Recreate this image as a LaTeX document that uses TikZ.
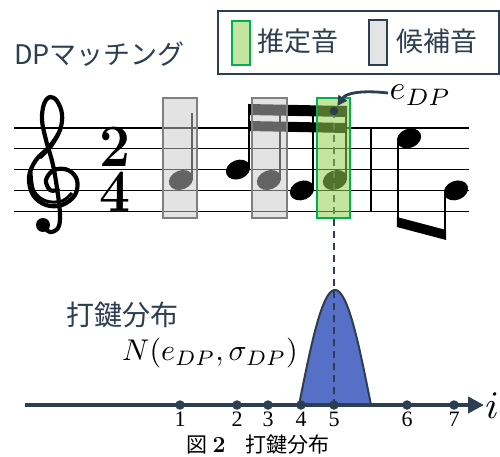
\documentclass[tikz,border=0pt]{standalone}
\usepackage{fontspec}
\usetikzlibrary{arrows.meta,shapes.geometric}
\newfontfamily\jp{Noto Sans CJK JP}
\newfontfamily\numfont{Liberation Serif}
\definecolor{slate}{RGB}{44,62,80}
\definecolor{gfill}{RGB}{146,208,80}
\definecolor{gline}{RGB}{0,176,80}
\definecolor{bfill}{RGB}{86,112,200}
\definecolor{gbox}{RGB}{200,200,200}
\definecolor{gboxline}{RGB}{128,128,128}
\begin{document}
\begin{tikzpicture}[x=1pt,y=-1pt,
  staffline/.style={line width=1.4pt,black},
  stemline/.style={line width=2.2pt,black},
  nhead/.style={ellipse,fill=black,minimum width=25pt,minimum height=19pt,inner sep=0pt,rotate=22},
  beamshape/.style={fill=black},
  candbox/.style={fill=gbox,fill opacity=0.5,draw=gboxline,draw opacity=1,line width=2.4pt},
  estbox/.style={fill=gfill,fill opacity=0.55,draw=gline,draw opacity=1,line width=2.4pt},
  jptext/.style={font=\fontsize{27}{30}\selectfont\jp,text=slate,inner sep=0pt},
  axdot/.style={circle,fill=slate,minimum size=9.5pt,inner sep=0pt},
  numlab/.style={inner sep=0pt},
  tsdigit/.style={inner sep=0pt,xscale=0.92,anchor=base,font=\fontsize{60}{60}\selectfont\bfseries},
  mathlab/.style={inner sep=0pt,text=black}]
\useasboundingbox (0,0) rectangle (500,457);

% ---- title and legend ----
\node[jptext,anchor=west] (title) at (14,54) {DPマッチング};
\draw[slate,line width=2pt] (218,11) rectangle (499,74);
\node[fill=gfill,fill opacity=0.55,draw=gline,draw opacity=1,line width=2.4pt,minimum width=18pt,minimum height=44pt,inner sep=0pt] (legG) at (241,43) {};
\node[jptext,anchor=west] (legGt) at (257,41) {推定音};
\node[fill=gbox!50,draw=slate,line width=2.4pt,minimum width=18pt,minimum height=45pt,inner sep=0pt] (legC) at (378,42.5) {};
\node[jptext,anchor=west] (legCt) at (396,41) {候補音};

% ---- staff ----
\foreach \yy in {128,148.8,169.6,190.4,211.2}
  \draw[staffline] (14,\yy) -- (469,\yy);

% treble clef
\draw[line width=4.2pt,line cap=round,line join=round] plot[smooth,tension=0.6] coordinates {
 (43,226) (50,232) (58,228) (60,216) (58,195) (53,165) (46,140) (42,120) (44,104) (50,97)
 (57,101) (62,114) (60,130) (50,146) (36,160) (29,177) (33,195) (46,205) (62,205) (75,195)
 (77,180) (68,170) (54,170) (46,180) (50,190) (58,190)};
\fill (43,225) circle (7pt);
\draw[line width=3pt] plot[smooth,tension=0.6] coordinates {(31,172) (34,191) (46,201) (62,201) (72,193)};
\draw[line width=3pt] plot[smooth,tension=0.6] coordinates {(59,134) (51,147) (40,158)};

% time signature
\node[tsdigit] (ts2) at (115,167) {2};
\node[tsdigit] (ts4) at (115,211.5) {4};

% notes
\node[nhead] (n1) at (181,180) {};
\node[nhead] (n2) at (238,169.6) {};
\node[nhead] (n3) at (269,180) {};
\node[nhead] (n4) at (302,190.4) {};
\node[nhead] (n5) at (335,180) {};
\node[nhead] (n6) at (409,138.4) {};
\node[nhead] (n7) at (456,190.4) {};
\draw[stemline] (192,177) -- (192,113);
\draw[stemline] (249,166.6) -- (249,105);
\draw[stemline] (280,177) -- (280,106);
\draw[stemline] (313,187.4) -- (313,106);
\draw[stemline] (346,177) -- (346,106);
\fill[beamshape] (248,104) -- (347,106) -- (347,117) -- (248,115) -- cycle;
\fill[beamshape] (248,121) -- (347,123) -- (347,133) -- (248,131) -- cycle;
\draw[stemline] (398,141.4) -- (398,225);
\draw[stemline] (445,193.4) -- (445,238);
\fill[beamshape] (396.9,217) -- (446.1,230) -- (446.1,240) -- (396.9,227) -- cycle;
\draw[line width=2.5pt] (371,128) -- (371,211.2);

% ---- distribution ----
\fill[bfill] plot[domain=-36:36,samples=61] ({335+\x},{405-115*cos(2.5*\x)}) -- cycle;
\draw[slate,line width=2pt] plot[domain=-36:36,samples=61] ({335+\x},{405-115*cos(2.5*\x)});

\coordinate (dpdot) at (334,111);
\coordinate (axstart) at (25,405);
\coordinate (axend) at (484,405);
\draw[slate,line width=1.6pt,dash pattern=on 7pt off 5pt] (dpdot) -- (334,405);

% boxes over notes
\draw[candbox] (163,98) rectangle (197,218);
\draw[candbox] (252,98) rectangle (287,218);
\draw[estbox] (317,98) rectangle (350,218);

\fill[slate] (dpdot) circle (4.3pt);
\node[mathlab,anchor=base west,scale=3.4] (eDP) at (389,100) {$e_{DP}$};
\draw[slate,line width=2.8pt,-{Triangle[length=10pt,width=10pt]},shorten >=6pt]
  (388,93) .. controls (362,90) and (346,93) .. (dpdot);

\node[jptext,anchor=west,font=\fontsize{28}{30}\selectfont\jp] (dist) at (66,314.5) {打鍵分布};
\node[mathlab,scale=3.0] (Nlab) at (210,353) {$N(e_{DP},\sigma_{DP})$};

\draw[slate,line width=4pt,-{Triangle[length=16pt,width=16pt]}] (axstart) -- (axend);
\node[mathlab,anchor=base east,scale=3.9] (ilab) at (499.5,418) {$i$};

\foreach \n/\xx in {1/180,2/237,3/268,4/301,5/334,6/407,7/454}{
  \node[axdot] (d\n) at (\xx,405) {};
  \node[numlab,anchor=base] (l\n) at (\xx,426) {\fontsize{22}{24}\selectfont\numfont \n};
}
\node[inner sep=0pt] (cap) at (258,445) {\fontsize{21}{23}\selectfont\jp 図\hspace{5pt}{\fontsize{23}{24}\selectfont\rmfamily\bfseries 2}\hspace{20pt}打鍵分布};
\end{tikzpicture}
\end{document}
